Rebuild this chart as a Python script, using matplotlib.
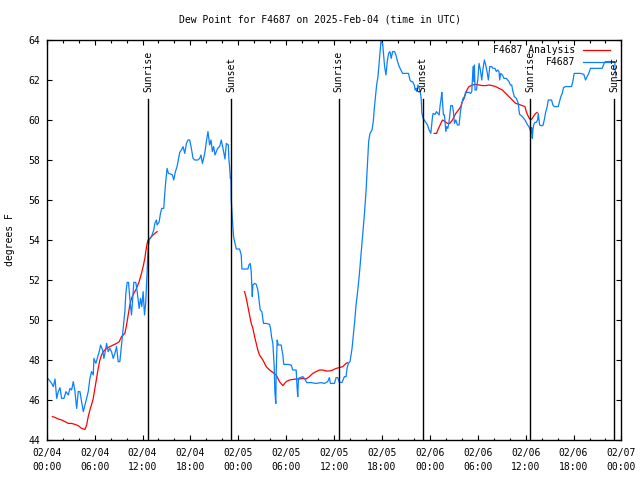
import numpy as np
import pandas as pd
import matplotlib
matplotlib.use("Agg")
import matplotlib.pyplot as plt
import matplotlib.dates as mdates

# ----------------------------------
# DATA (hours after 2025-02-04 00:00 UTC, dew point in F)
# ----------------------------------
START = pd.Timestamp("2025-02-04 00:00")

obs_hours = [
    0.20, 0.62, 0.83, 1.04, 1.25, 1.45, 1.66, 1.87, 2.16, 2.41, 2.70, 2.91, 3.12, 3.33,
    3.54, 3.75, 3.95, 4.16, 4.37, 4.58, 4.79, 5.00, 5.20, 5.41, 5.62, 5.83, 5.91, 6.16,
    6.33, 6.58, 6.75, 7.00, 7.16, 7.37, 7.50, 7.70, 7.91, 8.12, 8.33, 8.54, 8.75, 8.95,
    9.16, 9.37, 9.50, 9.66, 9.79, 9.91, 10.08, 10.25, 10.41, 10.62, 10.75, 10.91, 11.16,
    11.33, 11.58, 11.75, 11.91, 12.08, 12.25, 12.41, 12.50, 12.62, 12.70, 12.83, 13.12,
    13.41, 13.54, 13.75, 13.83, 14.08, 14.25, 14.41, 14.66, 14.79, 14.91, 15.08, 15.25,
    15.50, 15.75, 15.91, 16.12, 16.33, 16.45, 16.66, 16.87, 17.08, 17.29, 17.50, 17.70,
    17.91, 18.12, 18.33, 18.54, 18.75, 18.95, 19.16, 19.33, 19.50, 19.66, 19.83, 20.00,
    20.20, 20.41, 20.58, 20.75, 20.91, 21.08, 21.25, 21.41, 21.66, 21.87, 22.00, 22.16,
    22.33, 22.50, 22.75, 22.83, 22.91, 23.00, 23.08, 23.12, 23.25, 23.41, 23.54, 23.75,
    24.16, 24.37, 24.45, 24.79, 25.20, 25.33, 25.50, 25.62, 25.75, 25.83, 26.04, 26.25,
    26.45, 26.58, 26.75, 26.95, 27.16, 27.50, 27.91, 28.04, 28.16, 28.33, 28.50, 28.58,
    28.70, 28.75, 28.87, 29.00, 29.37, 29.58, 29.70, 30.20, 30.62, 30.83, 31.25, 31.37,
    31.45, 31.54, 31.75, 32.08, 32.29, 32.58, 33.12, 33.75, 34.37, 34.79, 35.20, 35.41,
    35.54, 36.04, 36.25, 36.45, 36.66, 37.00, 37.29, 37.50, 37.62, 37.79, 38.00, 38.12,
    38.25, 38.41, 38.58, 38.75, 38.95, 39.16, 39.37, 39.58, 39.79, 40.00, 40.20, 40.33,
    40.50, 40.75, 40.91, 41.04, 41.16, 41.33, 41.50, 41.66, 41.87, 42.08, 42.20, 42.33,
    42.50, 42.66, 42.83, 43.00, 43.16, 43.33, 43.58, 43.75, 43.95, 44.16, 44.37, 44.58,
    45.00, 45.33, 45.50, 45.66, 45.83, 46.04, 46.16, 46.25, 46.37, 46.50, 46.66, 46.79,
    46.91, 47.00, 47.16, 47.29, 47.50, 47.70, 47.91, 48.12, 48.33, 48.41, 48.66, 48.83,
    49.00, 49.16, 49.29, 49.41, 49.50, 49.58, 49.70, 49.83, 50.00, 50.12, 50.25, 50.41,
    50.62, 50.83, 50.95, 51.08, 51.25, 51.45, 51.66, 51.83, 52.00, 52.16, 52.33, 52.50,
    52.62, 52.91, 53.12, 53.25, 53.33, 53.41, 53.50, 53.58, 53.66, 53.83, 54.00, 54.16,
    54.33, 54.50, 54.66, 54.83, 55.00, 55.16, 55.33, 55.50, 55.75, 55.91, 56.16, 56.33,
    56.50, 56.66, 56.75, 56.87, 57.08, 57.29, 57.58, 57.75, 57.91, 58.08, 58.25, 58.41,
    58.58, 58.83, 59.08, 59.16, 59.25, 59.58, 59.91, 60.08, 60.25, 60.41, 60.58, 60.66,
    60.75, 60.83, 60.91, 61.00, 61.16, 61.33, 61.50, 61.58, 61.75, 61.91, 62.16, 62.33,
    62.50, 62.70, 62.83, 63.00, 63.25, 63.41, 63.58, 63.83, 64.08, 64.25, 64.41, 64.58,
    64.75, 65.00, 65.41, 65.75, 65.91, 66.08, 66.45, 66.87, 67.29, 67.50, 67.70, 67.91,
    68.12, 68.33, 68.95, 69.58, 69.83, 70.00, 70.83, 71.16, 71.22, 71.30,
]
obs_values = [
    47.05, 46.83, 46.67, 47.05, 46.08, 46.42, 46.62, 46.08, 46.08, 46.42, 46.25, 46.58, 46.50, 46.92,
    46.42, 45.58, 46.42, 46.42, 45.92, 45.42, 45.75, 46.08, 46.42, 47.08, 47.42, 47.25, 48.08, 47.83,
    48.08, 48.42, 48.75, 48.50, 48.08, 48.50, 48.83, 48.42, 48.58, 48.42, 48.08, 48.33, 48.67, 47.92,
    47.92, 48.75, 49.25, 49.92, 50.42, 51.33, 51.88, 51.88, 51.08, 50.25, 50.92, 51.88, 51.88,
    51.42, 50.58, 51.08, 50.67, 51.42, 50.25, 50.92, 51.75, 52.75, 53.58, 54.00, 54.17,
    54.50, 54.83, 55.00, 54.75, 54.90, 55.33, 55.58, 55.58, 56.33, 56.92, 57.58, 57.33,
    57.30, 57.25, 57.00, 57.42, 57.67, 57.92, 58.38, 58.50, 58.67, 58.33, 58.83, 59.00,
    59.00, 58.58, 58.08, 58.00, 58.00, 58.00, 58.08, 58.25, 57.83, 58.08, 58.42, 58.92,
    59.42, 58.75, 59.00, 58.42, 58.67, 58.25, 58.42, 58.58, 58.67, 59.00, 58.75, 58.42,
    58.05, 58.83, 58.75, 58.00, 57.67, 57.08, 57.08, 56.00, 55.08, 54.17, 53.92, 53.55,
    53.55, 53.25, 52.55, 52.55, 52.55, 52.75, 52.83, 52.42, 51.17, 51.75, 51.83, 51.78,
    51.50, 51.08, 50.50, 50.42, 49.83, 49.83, 49.78, 49.58, 49.17, 48.83, 47.67, 46.42,
    45.83, 47.42, 49.00, 48.75, 48.75, 48.25, 47.78, 47.78, 47.75, 47.50, 47.50, 46.58,
    46.17, 47.08, 47.12, 47.17, 47.08, 46.87, 46.87, 46.83, 46.87, 46.83, 46.92, 47.12,
    46.83, 46.83, 47.12, 47.12, 46.88, 46.88, 47.17, 47.17, 47.58, 47.83, 47.92, 48.25,
    48.58, 49.25, 49.92, 50.75, 51.42, 52.25, 53.25, 54.20, 55.25, 56.42, 57.92, 58.92,
    59.33, 59.50, 59.92, 60.58, 61.08, 61.75, 62.17, 62.92, 63.92, 63.83, 63.25, 62.67,
    62.25, 62.92, 63.33, 63.42, 63.08, 63.42, 63.42, 63.25, 62.92, 62.67, 62.50, 62.33,
    62.33, 62.33, 62.00, 61.92, 61.92, 61.75, 61.50, 61.58, 61.42, 61.75, 61.58, 61.42,
    61.08, 60.33, 60.08, 60.00, 59.88, 59.75, 59.50, 59.33, 60.17, 60.33, 60.28, 60.42,
    60.33, 60.25, 60.75, 61.08, 61.38, 60.92, 60.25, 60.25, 59.42, 59.67, 59.58, 59.92,
    60.72, 60.72, 60.42, 59.83, 60.00, 59.75, 59.75, 60.42, 60.83, 61.08, 61.17, 61.42,
    61.38, 61.38, 61.33, 61.42, 62.08, 62.67, 61.92, 62.75, 61.50, 61.50, 62.00, 62.83,
    62.50, 62.00, 62.58, 63.00, 62.75, 62.42, 62.00, 62.67, 62.67, 62.58, 62.58, 62.42,
    62.50, 62.42, 62.00, 62.33, 62.25, 62.08, 62.08, 62.00, 61.92, 61.75, 61.75, 61.42,
    61.17, 61.08, 60.83, 60.50, 60.28, 60.17, 60.00, 59.88, 59.75, 59.67, 59.50, 59.33,
    59.62, 59.08, 59.50, 59.75, 59.88, 59.88, 60.00, 60.33, 59.75, 59.72, 59.72, 60.00,
    60.38, 60.67, 61.00, 61.00, 61.00, 60.75, 60.67, 60.67, 60.67, 60.92, 61.17, 61.33,
    61.62, 61.67, 61.67, 61.67, 61.92, 62.33, 62.33, 62.33, 62.28, 62.00, 62.17, 62.33,
    62.58, 62.58, 62.58, 62.58, 62.83, 62.92, 62.92, 62.92, 62.50, 62.20,
]

# analysis series, three separate runs (NaN = gap)
ana_hours = [
    0.70, 1.04, 1.45, 1.87, 2.29, 2.70, 3.12, 3.54, 3.95, 4.37, 4.79, 5.00, 5.20, 5.41,
    5.62, 5.83, 6.04, 6.25, 6.45, 6.66, 6.87, 7.08, 7.50, 7.91, 8.33, 8.75, 9.08, 9.37,
    9.79, 10.00, 10.20, 10.41, 10.62, 10.91, 11.25, 11.58, 11.87, 12.08, 12.29, 12.41,
    12.58, 12.70, 12.91, 13.12, 13.33, 13.54, 13.83,
    np.nan,
    24.79, 25.00, 25.20, 25.41, 25.62, 25.83, 26.04, 26.25, 26.45, 26.66, 27.08, 27.50,
    27.91, 28.33, 28.75, 29.16, 29.58, 30.00, 30.41, 30.83, 31.25, 31.66, 32.08, 32.50,
    32.91, 33.33, 33.75, 34.16, 34.58, 35.00, 35.41, 35.83, 36.25, 36.66, 37.08, 37.29,
    37.50, 37.70,
    np.nan,
    48.54, 48.83, 49.08, 49.37, 49.58, 49.91, 50.20, 50.50, 50.83, 51.04, 51.25, 51.58,
    51.87, 52.08, 52.29, 52.50, 52.70, 52.91, 53.33, 53.75, 54.16, 54.58, 55.00, 55.41,
    55.83, 56.25, 56.66, 57.08, 57.50, 57.91, 58.33, 58.75, 59.16, 59.58, 59.91, 60.08,
    60.25, 60.41, 60.62, 60.83, 61.04, 61.25, 61.45,
]
ana_values = [
    45.17, 45.13, 45.05, 45.00, 44.92, 44.83, 44.83, 44.78, 44.72, 44.58, 44.53, 44.75, 45.17, 45.50,
    45.78, 46.08, 46.58, 47.08, 47.58, 48.00, 48.25, 48.42, 48.58, 48.67, 48.75, 48.83, 48.92, 49.17,
    49.33, 49.75, 50.25, 50.75, 51.08, 51.33, 51.58, 51.92, 52.33, 52.67, 53.08, 53.42,
    53.83, 54.00, 54.08, 54.17, 54.25, 54.33, 54.42,
    np.nan,
    51.42, 51.08, 50.67, 50.25, 49.83, 49.58, 49.17, 48.83, 48.50, 48.25, 48.00, 47.67,
    47.50, 47.38, 47.25, 46.92, 46.72, 46.92, 47.00, 47.03, 47.05, 47.05, 47.08, 47.05,
    47.17, 47.33, 47.42, 47.50, 47.50, 47.45, 47.45, 47.50, 47.58, 47.62, 47.67, 47.75,
    47.83, 47.87,
    np.nan,
    59.33, 59.33, 59.58, 59.83, 60.00, 59.92, 59.83, 59.83, 60.00, 60.17, 60.33, 60.50,
    60.67, 60.92, 61.08, 61.33, 61.55, 61.67, 61.75, 61.78, 61.75, 61.72, 61.72, 61.75,
    61.72, 61.67, 61.58, 61.50, 61.33, 61.17, 61.00, 60.83, 60.78, 60.72, 60.67, 60.42,
    60.25, 60.12, 60.00, 60.08, 60.22, 60.33, 60.38,
]

sun_labels = ["Sunrise", "Sunset", "Sunrise", "Sunset", "Sunrise", "Sunset"]
sun_hours = [12.70, 23.10, 36.58, 47.08, 60.58, 71.13]


def to_time(hours):
    return START + pd.to_timedelta(np.asarray(hours, dtype=float), unit="h")


# ----------------------------------
# STYLE
# ----------------------------------
FONT = "DejaVu Sans Mono"
FS = 7
plt.rcParams["font.family"] = FONT
plt.rcParams["font.size"] = FS

fig = plt.figure(figsize=(6.4, 4.8), dpi=100)
ax = fig.add_axes([0.073, 0.0833, 0.898, 0.8334])

# ----------------------------------
# DATA LINES
# ----------------------------------
ax.plot(to_time(ana_hours), ana_values, color="#ff0000", linewidth=0.9, zorder=2)
ax.plot(to_time(obs_hours), obs_values, color="#0a80ff", linewidth=0.9, zorder=2)

# sunrise / sunset markers
for lab, h in zip(sun_labels, sun_hours):
    t = START + pd.Timedelta(hours=h)
    ax.plot([t, t], [44, 61.05], color="black", linewidth=1.0, zorder=3)
    ax.text(t, 61.4, lab, rotation=90, ha="center", va="bottom",
            fontsize=FS, zorder=4)

# ----------------------------------
# LEGEND (gnuplot style: right aligned text, sample to the right)
# ----------------------------------
for row, (lab, col) in enumerate([("F4687 Analysis", "#ff0000"), ("F4687", "#0a80ff")]):
    y = 0.975 - row * 0.031
    ax.text(0.919, y, lab, transform=ax.transAxes, ha="right", va="center",
            fontsize=FS, zorder=5)
    ax.plot([0.933, 0.98], [y, y], transform=ax.transAxes, color=col,
            linewidth=0.9, zorder=5)

# ----------------------------------
# AXES
# ----------------------------------
ax.set_xlim(START, START + pd.Timedelta(hours=72))
ax.set_ylim(44, 64)
ax.set_yticks(range(44, 65, 2))

ax.xaxis.set_major_locator(mdates.HourLocator(byhour=[0, 6, 12, 18]))
ax.xaxis.set_minor_locator(mdates.HourLocator(byhour=range(0, 24, 2)))
ax.xaxis.set_major_formatter(mdates.DateFormatter("%m/%d\n%H:%M"))

ax.tick_params(which="both", direction="in", top=True, right=True,
               labelsize=FS, width=0.8)
ax.tick_params(which="major", length=3.5)
ax.tick_params(which="minor", length=1.8)
ax.tick_params(axis="x", which="major", pad=6)
ax.tick_params(axis="y", pad=5)
for lbl in ax.get_xticklabels():
    lbl.set_linespacing(1.5)

for sp in ax.spines.values():
    sp.set_linewidth(1.0)

fig.text(0.5, 0.96, "Dew Point for F4687 on 2025-Feb-04 (time in UTC)",
         ha="center", va="center", fontsize=FS)
fig.text(0.016, 0.5, "degrees F", rotation=90, ha="center", va="center",
         fontsize=FS)

fig.savefig("out.png", dpi=100)
